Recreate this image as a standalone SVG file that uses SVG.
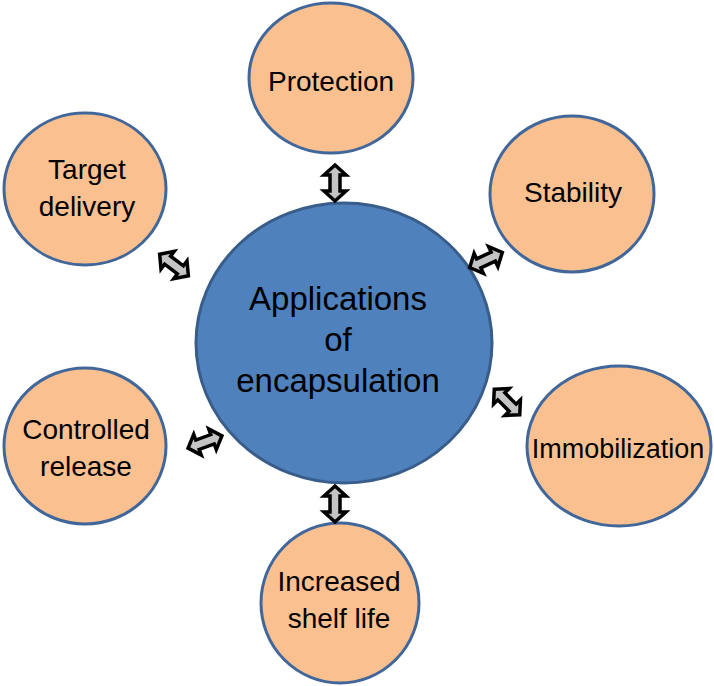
<svg xmlns="http://www.w3.org/2000/svg" xmlns:xlink="http://www.w3.org/1999/xlink" width="714" height="686" viewBox="0 0 714 686">
<defs>
<style>
.sat{fill:#FAC090;stroke:#41679A;stroke-width:3}
.hub{fill:#4F81BD;stroke:#385D8A;stroke-width:3}
.t{font-family:"Liberation Sans",Arial,sans-serif;font-size:28px;fill:#000;text-anchor:middle}
.c{font-family:"Liberation Sans",Arial,sans-serif;font-size:33px;fill:#000;text-anchor:middle}
.arr{fill:#C4C4C4;stroke:#000;stroke-width:3.5;stroke-linejoin:miter}
</style>
<path id="dbl" d="M -18 0 L -8 -11 L -8 -5 L 8 -5 L 8 -11 L 18 0 L 8 11 L 8 5 L -8 5 L -8 11 Z"/>
</defs>
<rect width="714" height="686" fill="#fff"/>
<g id="hub">
<ellipse class="hub" cx="344" cy="343" rx="148" ry="140"/>
<text class="c" x="338" y="310">Applications</text>
<text class="c" x="338" y="351">of</text>
<text class="c" x="338" y="392">encapsulation</text>
</g>
<g id="protection">
<ellipse class="sat" cx="331" cy="78" rx="82" ry="75"/>
<text class="t" x="331" y="91">Protection</text>
</g>
<g id="stability">
<ellipse class="sat" cx="572" cy="194" rx="82" ry="78"/>
<text class="t" x="573" y="202">Stability</text>
</g>
<g id="immobilization">
<ellipse class="sat" cx="619" cy="446" rx="92" ry="80"/>
<text class="t" x="618" y="458" style="font-size:27px">Immobilization</text>
</g>
<g id="shelf-life">
<ellipse class="sat" cx="340" cy="603" rx="79" ry="80"/>
<text class="t" x="339" y="591">Increased</text>
<text class="t" x="339" y="628">shelf life</text>
</g>
<g id="controlled-release">
<ellipse class="sat" cx="85" cy="446" rx="81" ry="78"/>
<text class="t" x="86" y="439">Controlled</text>
<text class="t" x="86" y="476">release</text>
</g>
<g id="target-delivery">
<ellipse class="sat" cx="85" cy="189" rx="81" ry="76"/>
<text class="t" x="87" y="179">Target</text>
<text class="t" x="87" y="216">delivery</text>
</g>
<g id="connectors">
<use xlink:href="#dbl" class="arr" transform="translate(335,183) rotate(90)"/>
<use xlink:href="#dbl" class="arr" transform="translate(335,504) rotate(90)"/>
<use xlink:href="#dbl" class="arr" transform="translate(174,265) rotate(37)"/>
<use xlink:href="#dbl" class="arr" transform="translate(486,260) rotate(-25)"/>
<use xlink:href="#dbl" class="arr" transform="translate(205,442) rotate(-20)"/>
<use xlink:href="#dbl" class="arr" transform="translate(507,402) rotate(45)"/>
</g>
</svg>
